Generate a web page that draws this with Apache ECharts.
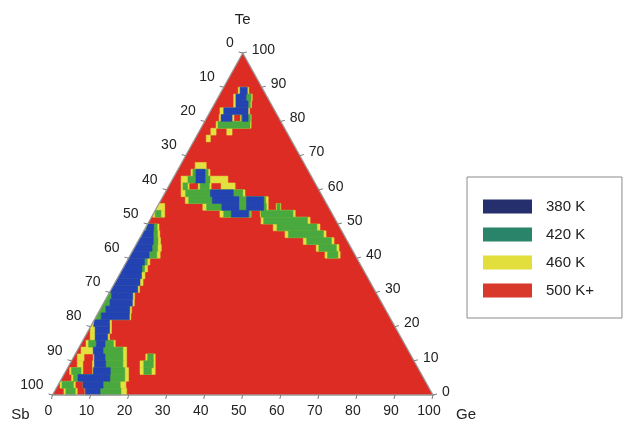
<!DOCTYPE html>
<html>
<head>
<meta charset="utf-8">
<script src="https://cdn.jsdelivr.net/npm/echarts@6/dist/echarts.min.js"></script>
<style>
  html, body { margin: 0; padding: 0; background: #fff; }
  #chart { width: 627px; height: 428px; }
</style>
</head>
<body>
<div id="chart"></div>
<script>
const H = Math.sqrt(3) / 2;
const ROW = 2; // each row spans 2 at.% Te

const tickValues = [0, 10, 20, 30, 40, 50, 60, 70, 80, 90, 100];
const legendNames = ['380 K', '420 K', '460 K', '500 K+'];

// rows of the map: [Te start, Ge from, Ge to]
const cells460 = [
  [0, 3, 6.5], [0, 8.5, 19.5],
  [2, 1, 5], [2, 7, 18.3],
  [4, 3, 18],
  [6, 1.5, 5], [6, 7.5, 17], [6, 20, 24],
  [8, 2.5, 4], [8, 6.5, 15.5], [8, 19, 23],
  [10, 1.5, 3.3], [10, 5.7, 14.5], [10, 19.5, 22],
  [12, 1.5, 13.5],
  [14, 1.8, 9.5],
  [16, 1.9, 7],
  [18, 0.9, 6.5],
  [20, 0.3, 5.5],
  [22, 0, 9.6],
  [24, 0, 8.8],
  [26, 0, 8.5],
  [28, 0, 7.6],
  [30, 0, 7.9],
  [32, 0, 7.8],
  [34, 0, 7.3],
  [36, 0, 7],
  [38, 0, 6.6],
  [40, 0, 8.3], [40, 51.6, 55.6],
  [42, 0, 7.6], [42, 48.3, 54.3],
  [44, 0, 6.4], [44, 43.9, 52],
  [46, 0, 5.2], [46, 38.1, 48.9],
  [48, 0, 4], [48, 34, 46.3],
  [50, 29.8, 42.7],
  [52, 0.3, 3.5], [52, 18, 26.2], [52, 28.6, 37.8],
  [54, 0, 2.5], [54, 12.5, 29.7], [54, 31.8, 33],
  [56, 6.9, 28.7],
  [58, 4.8, 21.6],
  [60, 3.8, 5.9], [60, 8.3, 11.7], [60, 14.3, 18],
  [62, 2.8, 6], [62, 9.5, 15.1],
  [64, 4.4, 9.4],
  [66, 4.5, 7.4],
  [74, 3.4, 4.5],
  [76, 3.6, 5], [76, 7.8, 9.2],
  [78, 4, 13.2],
  [80, 3.8, 7.7], [80, 9.4, 12.2],
  [82, 3, 10.8],
  [84, 5.6, 10.3],
  [86, 4.6, 9.5],
  [88, 4.8, 7.6]
];

const cells420 = [
  [0, 3.5, 6], [0, 11, 18],
  [2, 1.5, 4.5], [2, 11, 16.8],
  [4, 3.5, 17],
  [6, 2, 4.5], [6, 12, 16], [6, 21, 23],
  [8, 10, 14.5], [8, 20, 22.5],
  [10, 8.8, 13.5], [10, 20, 21.5],
  [12, 7.3, 12.5],
  [14, 2.5, 4.5], [14, 6.8, 9],
  [22, 0.3, 1.8],
  [24, 0.3, 2],
  [26, 0, 2.1],
  [28, 0, 1.5],
  [36, 5.4, 6.2],
  [38, 5.2, 5.9],
  [40, 5.4, 7.4],
  [42, 5.2, 6.6], [42, 49, 53.6],
  [44, 4.5, 5.7], [44, 44.8, 51.3],
  [46, 3.5, 4.6], [46, 39, 48.2],
  [48, 0.3, 3.5], [48, 35, 45.5],
  [40, 52.3, 55],
  [50, 30.5, 42],
  [52, 1, 2.5], [52, 19, 26], [52, 28.8, 37.2],
  [54, 13.5, 29.2], [54, 32, 32.8],
  [56, 7.8, 28],
  [58, 6, 21],
  [60, 4.3, 5.5], [60, 8.8, 11.2],
  [62, 4.6, 10.4],
  [64, 4.9, 8.9],
  [78, 4.5, 12.9],
  [80, 9.6, 12],
  [84, 9.4, 10],
  [86, 7.9, 9.2]
];

const cells380 = [
  [0, 8.6, 12.5], [2, 7, 12.3], [4, 4.7, 13.1], [6, 7.7, 12.2],
  [8, 7, 10], [10, 6, 8.8], [12, 4.7, 7.3], [14, 4.5, 6.8],
  [16, 3.2, 6.5], [18, 2.2, 6], [20, 0.8, 5], [22, 1.8, 9.2],
  [24, 2, 8.3], [26, 2.1, 8], [28, 1.5, 7.1], [30, 0, 7.4],
  [32, 0, 7], [34, 0, 6.4], [36, 0, 5.5], [38, 0, 5.2],
  [40, 0, 5.4], [42, 0, 5.2], [44, 0, 4.5], [46, 0.3, 3.5],
  [48, 0.6, 2.6],
  [52, 21, 25.5], [54, 17.5, 22], [54, 24, 28.5],
  [56, 14, 21], [56, 23, 27.5], [58, 12.5, 18.5],
  [62, 6.7, 9.1], [64, 5.7, 8.1],
  [80, 4.3, 7.2], [80, 9.9, 11.4], [82, 4, 10.4], [84, 6.2, 9.4],
  [86, 5.2, 7.9], [88, 5.3, 7.2]
];

const mapColors = {
  '380 K': '#2343b3',
  '420 K': '#4aa93e',
  '460 K': '#e3e13f',
  '500 K+': '#dc2c23'
};
const legendColors = ['#262f6d', '#2a8469', '#e2de3b', '#d8392a'];

const FONT = '"Liberation Sans", Arial, sans-serif';
const textColor = '#222';

// ternary (Ge, Te) -> cartesian units
const toXY = (ge, te) => [ge + te / 2, te * H];

const cellRenderer = (color) => (params, api) => {
  const te = api.value(0);
  const g0 = api.value(1);
  const g1 = api.value(2);
  const t1 = te + ROW;
  const pts = [
    [g0 + te / 2, te * H],
    [Math.min(g1 + te / 2, 100 - te / 2), te * H],
    [Math.min(g1 + te / 2, 100 - t1 / 2), t1 * H],
    [Math.max(g0 + te / 2, t1 / 2), t1 * H]
  ].map((p) => api.coord(p));
  return {
    type: 'polygon',
    shape: {points: pts},
    style: {fill: color, stroke: color, lineWidth: 0.5}
  };
};

const cellSeries = (name, data, z) => ({
  name,
  type: 'custom',
  coordinateSystem: 'cartesian2d',
  renderItem: cellRenderer(mapColors[name]),
  data,
  z,
  clip: false,
  silent: true
});

const label = (text, x, y, align) => ({
  type: 'text',
  x, y,
  style: {
    text,
    textAlign: align,
    textVerticalAlign: 'middle',
    font: '14px ' + FONT,
    fill: textColor
  }
});

const renderFrame = (params, api) => {
  const a = api.coord(toXY(0, 0));
  const b = api.coord(toXY(100, 0));
  const c = api.coord(toXY(0, 100));
  const children = [{
    type: 'polygon',
    shape: {points: [a, b, c]},
    style: {fill: 'none', stroke: '#999', lineWidth: 1.3}
  }];
  const tickStyle = {stroke: '#7a7a7a', lineWidth: 1};
  tickValues.forEach((v) => {
    // bottom: Ge
    const pb = api.coord(toXY(v, 0));
    children.push({type: 'line', shape: {x1: pb[0], y1: pb[1], x2: pb[0] - 1, y2: pb[1] + 4}, style: tickStyle});
    children.push(label(String(v), pb[0] - 4, pb[1] + 16, 'center'));
    // left: Sb
    const pl = api.coord(toXY(0, 100 - v));
    children.push({type: 'line', shape: {x1: pl[0], y1: pl[1], x2: pl[0] - 4, y2: pl[1] - 1}, style: tickStyle});
    children.push(label(String(v), pl[0] - 9, pl[1] - 10, 'right'));
    // right: Te
    const pr = api.coord(toXY(100 - v, v));
    children.push({type: 'line', shape: {x1: pr[0], y1: pr[1], x2: pr[0] + 4, y2: pr[1] - 1}, style: tickStyle});
    children.push(label(String(v), pr[0] + 9, pr[1] - 3, 'left'));
  });
  const title = (text, p, dx, dy) => ({
    type: 'text',
    x: p[0] + dx, y: p[1] + dy,
    style: {text, textAlign: 'center', textVerticalAlign: 'middle', font: '15px ' + FONT, fill: textColor}
  });
  children.push(title('Te', c, 0, -33));
  children.push(title('Sb', a, -32, 20));
  children.push(title('Ge', b, 33, 20));
  return {type: 'group', children};
};

const chart = echarts.init(document.getElementById('chart'), null, {renderer: 'canvas'});

chart.setOption({
  animation: false,
  backgroundColor: '#fff',
  grid: {left: 52.5, right: 194, top: 53, bottom: 33},
  xAxis: {type: 'value', min: 0, max: 100, show: false},
  yAxis: {type: 'value', min: 0, max: 100 * H, show: false},
  legend: {
    left: 467,
    top: 177,
    orient: 'vertical',
    icon: 'rect',
    itemWidth: 49,
    itemHeight: 14,
    itemGap: 13,
    selectedMode: false,
    padding: [22, 28, 20, 16],
    borderColor: '#8a8a8a',
    borderWidth: 1,
    backgroundColor: '#fff',
    textStyle: {fontSize: 15, fontFamily: FONT, color: textColor, lineHeight: 14, padding: [0, 0, 0, 9]},
    data: legendNames.map((name, i) => ({name, itemStyle: {color: legendColors[i]}}))
  },
  series: [
    {
      name: '500 K+',
      type: 'custom',
      coordinateSystem: 'cartesian2d',
      data: [[0]],
      z: 1,
      silent: true,
      renderItem: (params, api) => ({
        type: 'polygon',
        shape: {points: [toXY(0, 0), toXY(100, 0), toXY(0, 100)].map((p) => api.coord(p))},
        style: {fill: mapColors['500 K+']}
      })
    },
    cellSeries('460 K', cells460, 2),
    cellSeries('420 K', cells420, 3),
    cellSeries('380 K', cells380, 4),
    {
      name: 'frame',
      type: 'custom',
      coordinateSystem: 'cartesian2d',
      data: [[0]],
      z: 5,
      clip: false,
      silent: true,
      renderItem: renderFrame
    }
  ]
});
</script>
</body>
</html>
